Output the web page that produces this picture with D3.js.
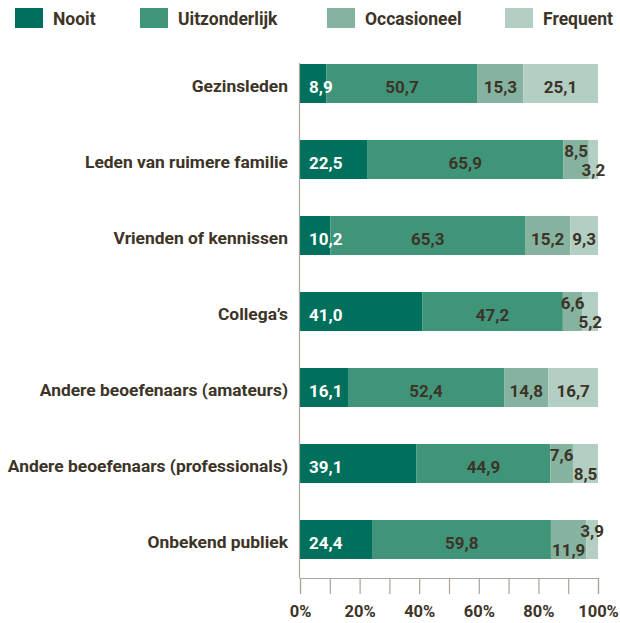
<!DOCTYPE html>
<html>
<head>
<meta charset="utf-8">
<script src="https://cdn.jsdelivr.net/npm/d3@7"></script>
<style>
  html, body { margin: 0; padding: 0; background: #ffffff; }
  svg { display: block; font-family: Roboto, "Noto Sans", sans-serif; font-weight: 700; }
</style>
</head>
<body>
<svg id="chart" width="620" height="623"></svg>
<script>
// Share of respondents per audience type, in percent
const categories = [
  "Gezinsleden",
  "Leden van ruimere familie",
  "Vrienden of kennissen",
  "Collega’s",
  "Andere beoefenaars (amateurs)",
  "Andere beoefenaars (professionals)",
  "Onbekend publiek"
];
const seriesNames = ["Nooit", "Uitzonderlijk", "Occasioneel", "Frequent"];
const nooit         = [8.9, 22.5, 10.2, 41.0, 16.1, 39.1, 24.4];
const uitzonderlijk = [50.7, 65.9, 65.3, 47.2, 52.4, 44.9, 59.8];
const occasioneel   = [15.3, 8.5, 15.2, 6.6, 14.8, 7.6, 11.9];
const frequent      = [25.1, 3.2, 9.3, 5.2, 16.7, 8.5, 3.9];
const tickValues = [0, 10, 20, 30, 40, 50, 60, 70, 80, 90, 100];

// Rows where the last two labels are staggered with "Frequent" placed on top
const frequentOnTop = ["Onbekend publiek"];

const colors = ["#006f5b", "#40947a", "#85b3a0", "#b3cec3"];
const textDark = "#3c3427";
const axisGrey = "#aaa49c";

const svg = d3.select("#chart");

const x = d3.scaleLinear().domain([0, 100]).range([300, 598]);
const y = d3.scaleBand()
  .domain(categories)
  .range([45.5, 577.5])
  .paddingInner(0.487)
  .paddingOuter(0.2435);

const values = [nooit, uitzonderlijk, occasioneel, frequent];
const rows = categories.map((c, i) => {
  const r = { category: c };
  seriesNames.forEach((s, k) => { r[s] = values[k][i]; });
  return r;
});
const stacked = d3.stack().keys(seriesNames)(rows);

const fmt = v => d3.format(".1f")(v).replace(".", ",");

// Legend
const legend = svg.append("g");
const legendX = [15, 140, 327, 505];
seriesNames.forEach((s, k) => {
  legend.append("rect")
    .attr("x", legendX[k]).attr("y", 8)
    .attr("width", 28).attr("height", 20)
    .attr("fill", colors[k]);
  legend.append("text")
    .attr("x", legendX[k] + 38).attr("y", 24.5)
    .attr("fill", textDark)
    .attr("font-size", 17.5)
    .text(s);
});

// Bars
const layers = svg.append("g").selectAll("g")
  .data(stacked)
  .join("g")
  .attr("fill", (d, k) => colors[k]);

layers.selectAll("rect")
  .data(d => d)
  .join("rect")
  .attr("x", d => x(d[0]))
  .attr("y", d => y(d.data.category))
  .attr("width", d => x(Math.min(d[1], 100)) - x(d[0]))
  .attr("height", y.bandwidth());

// Value labels
const labels = svg.append("g").attr("font-size", 17);
stacked.forEach((layer, k) => {
  layer.forEach(d => {
    const cat = d.data.category;
    const v = d.data[seriesNames[k]];
    const cy = y(cat) + y.bandwidth() / 2;
    const stagger = d.data["Frequent"] < 9 && k >= 2;
    let tx, ty, anchor;
    if (k === 0) {
      tx = x(0) + 9; anchor = "start"; ty = cy + 9;
    } else {
      tx = (x(d[0]) + x(Math.min(d[1], 100))) / 2; anchor = "middle"; ty = cy + 9;
    }
    if (stagger) {
      const top = frequentOnTop.includes(cat) ? (k === 3) : (k === 2);
      ty = top ? cy - 3 : cy + 16;
    }
    labels.append("text")
      .attr("x", tx).attr("y", ty)
      .attr("text-anchor", anchor)
      .attr("fill", k === 0 ? "#ffffff" : textDark)
      .text(fmt(v));
  });
});

// Category labels
svg.append("g").selectAll("text")
  .data(categories)
  .join("text")
  .attr("x", 288)
  .attr("y", d => y(d) + y.bandwidth() / 2 + 8.5)
  .attr("text-anchor", "end")
  .attr("fill", textDark)
  .attr("font-size", 17.4)
  .text(d => d);

// Vertical axis line
svg.append("line")
  .attr("x1", 299.5).attr("x2", 299.5)
  .attr("y1", 63).attr("y2", 578)
  .attr("stroke", axisGrey).attr("stroke-width", 1.2);

// Bottom axis
const xAxis = d3.axisBottom(x)
  .tickValues(tickValues)
  .tickSize(16)
  .tickFormat(d => d % 20 === 0 ? d + "%" : "");

const gx = svg.append("g")
  .attr("transform", "translate(0,578)")
  .call(xAxis);
gx.select(".domain").attr("stroke", axisGrey).attr("stroke-width", 1.2);
gx.selectAll(".tick line").attr("stroke", axisGrey).attr("stroke-width", 1.2);
gx.selectAll(".tick text")
  .attr("y", 39).attr("dy", 0)
  .attr("fill", textDark)
  .attr("font-size", 16.5)
  .attr("font-family", "Roboto, 'Noto Sans', sans-serif")
  .attr("font-weight", 700);
</script>
</body>
</html>
